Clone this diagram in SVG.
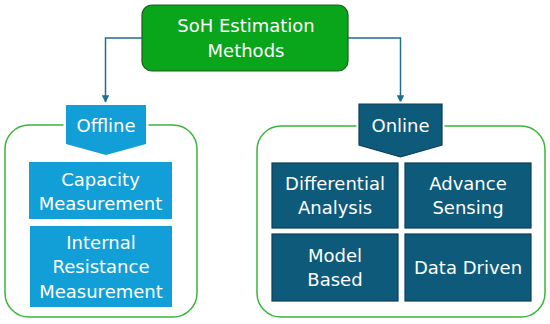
<svg xmlns="http://www.w3.org/2000/svg" width="550" height="324" viewBox="0 0 550 324">
<style>
.t{font-family:"DejaVu Sans",sans-serif;font-size:18px;fill:#ffffff;text-anchor:middle}
.cont{fill:none;stroke:#3bb53b;stroke-width:1.5}
.lb{fill:#129fd7}
.db{fill:#0e5a7b;stroke:#0a3e56;stroke-width:1.2}
.con{fill:none;stroke:#1d6f8c;stroke-width:1.5}
.bk{fill:#ffffff;stroke:#ffffff;stroke-width:5}
</style>
<defs>
<marker id="ah" viewBox="0 0 10 10" refX="9" refY="5" markerWidth="5" markerHeight="5" orient="auto" markerUnits="strokeWidth">
<path d="M0,0 L10,5 L0,10 z" fill="#1d6f8c"/>
</marker>
</defs>
<g id="connectors">
<path class="con" d="M142,38 H105.5 V102" marker-end="url(#ah)"/>
<path class="con" d="M348,38 H400.5 V102" marker-end="url(#ah)"/>
</g>
<g id="offline-group">
<rect class="cont" x="5" y="125" width="192" height="192" rx="24"/>
</g>
<g id="online-group">
<rect class="cont" x="257" y="126" width="288" height="191" rx="24"/>
</g>
<g id="root">
<rect x="142" y="5" width="206" height="66" rx="10" fill="#09a51b" stroke="#1d5e1d" stroke-width="1.2"/>
<text class="t" x="246" y="32">SoH Estimation</text>
<text class="t" x="246" y="57">Methods</text>
</g>
<g id="offline">
<polygon class="bk" points="66,105 146,105 146,144 106,155 66,144"/>
<polygon class="lb" points="66,105 146,105 146,144 106,155 66,144"/>
<text class="t" x="106" y="132">Offline</text>
</g>
<g id="online">
<polygon class="bk" points="359,104 442,104 442,145 400.5,157 359,145"/>
<polygon class="db" points="359,104 442,104 442,145 400.5,157 359,145"/>
<text class="t" x="400.5" y="132">Online</text>
</g>
<g id="capacity">
<rect class="lb" x="29" y="162" width="143" height="57"/>
<text class="t" x="100.5" y="186">Capacity</text>
<text class="t" x="100.5" y="210">Measurement</text>
</g>
<g id="internal">
<rect class="lb" x="30" y="226" width="142" height="81"/>
<text class="t" x="101" y="249">Internal</text>
<text class="t" x="101" y="273">Resistance</text>
<text class="t" x="101" y="297.5">Measurement</text>
</g>
<g id="differential">
<rect class="db" x="272" y="163" width="126" height="65"/>
<text class="t" x="335" y="190">Differential</text>
<text class="t" x="335" y="214">Analysis</text>
</g>
<g id="advance">
<rect class="db" x="405" y="163" width="126" height="65"/>
<text class="t" x="468" y="190">Advance</text>
<text class="t" x="468" y="214">Sensing</text>
</g>
<g id="model">
<rect class="db" x="272" y="234" width="126" height="67"/>
<text class="t" x="335" y="261.5">Model</text>
<text class="t" x="335" y="286">Based</text>
</g>
<g id="data">
<rect class="db" x="405" y="234" width="126" height="67"/>
<text class="t" x="468" y="274">Data Driven</text>
</g>
</svg>
